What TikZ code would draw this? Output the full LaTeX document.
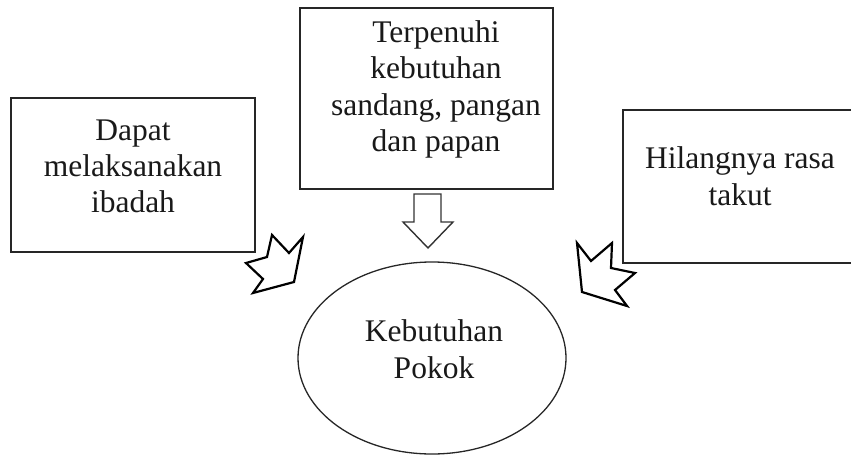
\documentclass[tikz,border=0pt]{standalone}
\usepackage{fontspec}
\setmainfont{Liberation Serif}
\usetikzlibrary{shapes.geometric}
\tikzset{
  kotak/.style={draw=black!85, line width=1.6pt},
  tulisan/.style={align=center, inner sep=0pt, anchor=base, font=\fontsize{31.5}{36.5}\selectfont, text=black!90},
  panah/.style={draw=black, line width=2.2pt, line join=miter, fill=white}
}
\begin{document}
\begin{tikzpicture}[x=1pt, y=-1pt]
\useasboundingbox (0,0) rectangle (851,457);
\draw[kotak] (11,98) rectangle (255,252);
\draw[kotak] (300,8) rectangle (553,189);
\draw[kotak] (623,110) rectangle (858,263);
\node[draw=black!85, line width=1.3pt, ellipse, minimum width=268pt, minimum height=192pt] (pokok) at (432,358) {};
% anchor base = baseline of last line
\node[tulisan] (ibadah) at (133,213) {Dapat\\melaksanakan\\ibadah};
\node[tulisan] (pangan) at (436,152) {Terpenuhi\\kebutuhan\\sandang, pangan\\dan papan};
\node[tulisan] (takut) at (740,205) {Hilangnya rasa\\takut};
\node[tulisan] (pokoktxt) at (434,378) {Kebutuhan\\Pokok};
\draw[panah, line width=1.4pt, draw=black!80] (414,194) -- (441,194) -- (441,222) -- (453,222) -- (428,248) -- (403,222) -- (414,222) -- cycle;
\draw[panah] (272,235) -- (289,253) -- (303,237) -- (294,282) -- (253,293) -- (263,279) -- (246,263) -- (267,257) -- cycle;
\draw[panah] (577,243) -- (591,261) -- (612,243) -- (611,268) -- (635,273) -- (615,290) -- (627,306) -- (582,292) -- cycle;
\end{tikzpicture}
\end{document}
